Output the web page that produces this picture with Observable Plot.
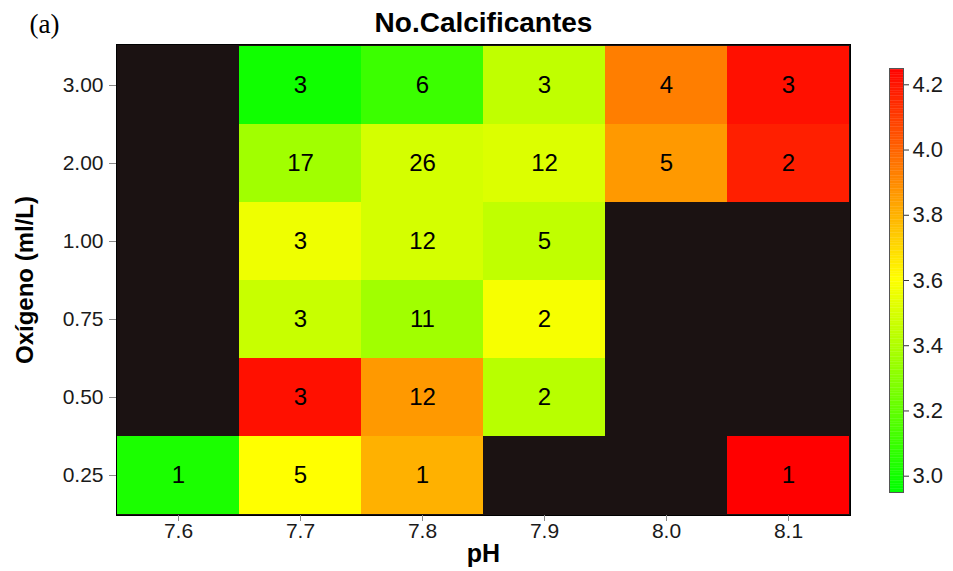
<!DOCTYPE html>
<html>
<head>
<meta charset="utf-8">
<script src="https://cdn.jsdelivr.net/npm/d3@7"></script>
<script src="https://cdn.jsdelivr.net/npm/@observablehq/plot@0.6"></script>
<style>
  html, body { margin: 0; padding: 0; background: white; }
  #wrap { position: relative; width: 953px; height: 571px; font-family: "Liberation Sans", Arial, sans-serif; }
  #wrap svg { position: absolute; left: 0; top: 0; }
</style>
</head>
<body>
<div id="wrap"></div>
<script>
// ---- data ----
const pHLevels = ["7.6", "7.7", "7.8", "7.9", "8.0", "8.1"];
const oxygenLevels = ["3.00", "2.00", "1.00", "0.75", "0.50", "0.25"];
// counts (labels) per oxygen row, across pH columns; null = no data (black)
const counts = [
  [null, 3, 6, 3, 4, 3],
  [null, 17, 26, 12, 5, 2],
  [null, 3, 12, 5, null, null],
  [null, 3, 11, 2, null, null],
  [null, 3, 12, 2, null, null],
  [1, 5, 1, null, null, 1]
];
// colour value per cell
const values = [
  [null, 2.99, 3.10, 3.44, 3.93, 4.21],
  [null, 3.36, 3.49, 3.51, 3.86, 4.17],
  [null, 3.56, 3.49, 3.44, null, null],
  [null, 3.46, 3.36, 3.58, null, null],
  [null, 4.21, 3.86, 3.42, null, null],
  [3.02, 3.60, 3.80, null, null, 4.25]
];
const colorTicks = [3.0, 3.2, 3.4, 3.6, 3.8, 4.0, 4.2];
const colorDomain = [2.95, 3.6, 4.25];
const colorRange = ["#00ff00", "#ffff00", "#ff0000"];

const cells = [];
oxygenLevels.forEach((o, i) => pHLevels.forEach((p, j) => {
  if (values[i][j] != null) cells.push({pH: p, oxygen: o, value: values[i][j], count: counts[i][j]});
}));

const font = "'Liberation Sans', Arial, sans-serif";
const colorScale = {type: "linear", domain: colorDomain, range: colorRange, interpolate: d3.interpolateRgb};
const blank = () => "";

const main = Plot.plot({
  width: 953, height: 571,
  marginLeft: 116, marginRight: 103, marginTop: 44, marginBottom: 56,
  style: {fontFamily: font, background: "transparent", overflow: "visible"},
  x: {type: "band", domain: pHLevels, padding: 0},
  y: {type: "band", domain: oxygenLevels, padding: 0},
  color: colorScale,
  marks: [
    Plot.frame({fill: "#1b1212"}),
    Plot.cell(cells, {x: "pH", y: "oxygen", fill: "value", inset: 0}),
    Plot.text(cells, {x: "pH", y: "oxygen", text: d => String(d.count), fontSize: 24, fill: "black"}),
    Plot.frame({stroke: "black", strokeWidth: 1}),
    Plot.axisX({label: null, tickSize: 6, tickFormat: blank, stroke: "#8a8a8a"}),
    Plot.axisY({label: null, tickSize: 7, tickFormat: blank, stroke: "#8a8a8a"}),
    Plot.text(pHLevels, {x: d => d, frameAnchor: "bottom", lineAnchor: "top", dy: 8, fontSize: 21, fill: "#1a1a1a"}),
    Plot.text(oxygenLevels, {y: d => d, frameAnchor: "left", textAnchor: "end", dx: -13, fontSize: 21, fill: "#1a1a1a"}),
    Plot.text(["No.Calcificantes"], {frameAnchor: "top", textAnchor: "middle", lineAnchor: "bottom", dy: -13, fontSize: 28, fontWeight: "bold", fill: "black"}),
    Plot.text(["(a)"], {frameAnchor: "top-left", textAnchor: "start", lineAnchor: "bottom", dx: -87, dy: -12, fontSize: 27, fontFamily: "'Liberation Serif', 'Times New Roman', serif", fill: "black"}),
    Plot.text(["pH"], {frameAnchor: "bottom", textAnchor: "middle", lineAnchor: "bottom", dy: 46, fontSize: 25, fontWeight: "bold", fill: "black"}),
    Plot.text(["Oxígeno (ml/L)"], {frameAnchor: "left", textAnchor: "middle", lineAnchor: "middle", rotate: -90, dx: -91, fontSize: 24, fontWeight: "bold", fill: "black"})
  ]
});

// colour bar
const rampSteps = d3.range(2.95, 4.25, 0.005).map(v => ({y1: v, y2: Math.min(v + 0.006, 4.25)}));
const bar = Plot.plot({
  width: 953, height: 571,
  marginLeft: 889, marginRight: 50, marginTop: 68, marginBottom: 79,
  style: {fontFamily: font, background: "transparent", overflow: "visible"},
  x: {domain: [0, 1], axis: null},
  y: {domain: [2.95, 4.25]},
  color: colorScale,
  marks: [
    Plot.rect(rampSteps, {x1: 0, x2: 1, y1: "y1", y2: "y2", fill: d => d.y1}),
    Plot.frame({stroke: "#555", strokeWidth: 1}),
    Plot.axisY({anchor: "right", ticks: colorTicks, tickFormat: blank, label: null, tickSize: 5, stroke: "#333"}),
    Plot.text(colorTicks, {y: d => d, text: d => d.toFixed(1), frameAnchor: "right", textAnchor: "start", dx: 9, fontSize: 22, fill: "#1a1a1a"})
  ]
});

document.getElementById("wrap").append(main, bar);
</script>
</body>
</html>
